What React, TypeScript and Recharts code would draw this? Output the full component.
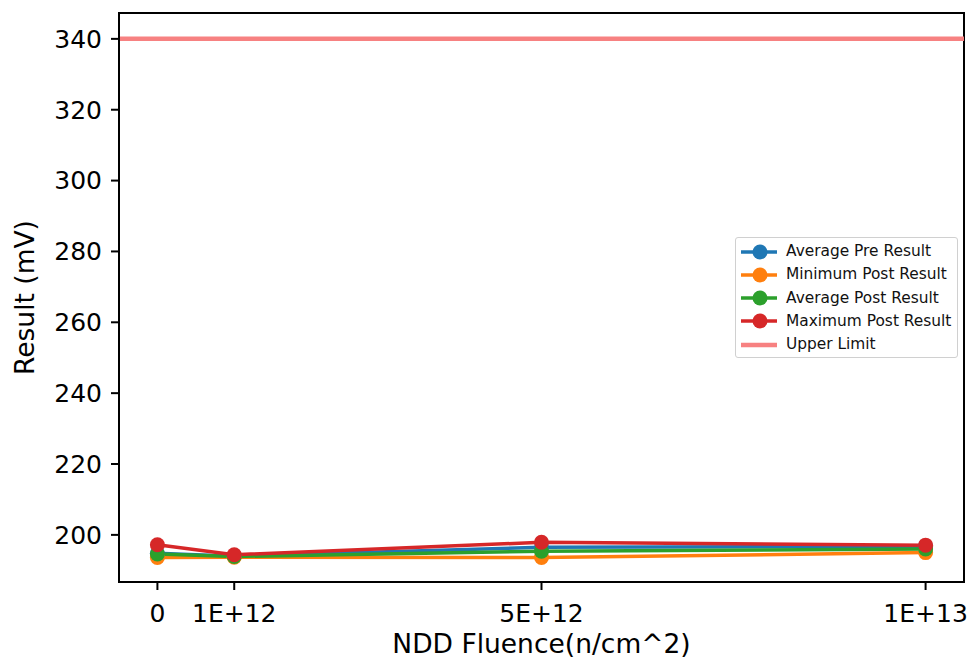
import React from 'react';
import { LineChart, Line, XAxis, YAxis, ReferenceLine, ReferenceArea, Legend } from 'recharts';

const fluence = [0, 1e12, 5e12, 1e13];
const tickLabels = ['0', '1E+12', '5E+12', '1E+13'];
const avgPre = [194.8, 194.0, 196.5, 196.7];
const minPost = [193.6, 193.7, 193.6, 195.0];
const avgPost = [194.6, 193.9, 195.4, 196.0];
const maxPost = [197.2, 194.4, 197.9, 197.1];
const upperLimit = 340;
const yTicks = [200, 220, 240, 260, 280, 300, 320, 340];
const xDomain = [-0.5e12, 10.5e12];
const yDomain = [186.7, 347.3];

const data = fluence.map((x, i) => ({
  x,
  avgPre: avgPre[i],
  minPost: minPost[i],
  avgPost: avgPost[i],
  maxPost: maxPost[i],
}));

const series = [
  { key: 'avgPre', name: 'Average Pre Result', color: '#1f77b4' },
  { key: 'minPost', name: 'Minimum Post Result', color: '#ff7f0e' },
  { key: 'avgPost', name: 'Average Post Result', color: '#2ca02c' },
  { key: 'maxPost', name: 'Maximum Post Result', color: '#d62728' },
];
const limitColor = '#f78181';
const FONT = 'DejaVu Sans, sans-serif';
const FS = 25;
const LFS = 26.5;

const LegendBox = () => (
  <div
    style={{
      position: 'absolute',
      left: 735,
      top: 237,
      width: 223,
      height: 121,
      border: '1.5px solid #d0d0d0',
      borderRadius: 3,
      background: 'rgba(255,255,255,0.8)',
      fontFamily: FONT,
      fontSize: 15.4,
      boxSizing: 'border-box',
    }}
  >
    {[...series.map((s) => ({ ...s, marker: true })), { key: 'ul', name: 'Upper Limit', color: limitColor, marker: false }].map(
      (s, i) => (
        <div key={s.key} style={{ position: 'absolute', left: 0, top: 3.5 + i * 23.3, height: 20, width: 220 }}>
          <svg width={44} height={20} style={{ position: 'absolute', left: 3, top: 0 }}>
            <line x1={2} x2={38} y1={10} y2={10} stroke={s.color} strokeWidth={s.marker ? 3.5 : 4.5} />
            {s.marker && <circle cx={21} cy={10} r={7.5} fill={s.color} />}
          </svg>
          <span style={{ position: 'absolute', left: 50, top: 0.5, color: '#111', whiteSpace: 'nowrap', lineHeight: '18px' }}>{s.name}</span>
        </div>
      )
    )}
  </div>
);

export default function App() {
  return (
    <div style={{ position: 'absolute', left: 0, top: 0, width: 972, height: 661, background: '#fff' }}>
      <LineChart
        width={972}
        height={661}
        data={data}
        margin={{ top: 13, right: 8, bottom: 0, left: 0 }}
        style={{ fontFamily: FONT }}
      >
        <XAxis
          dataKey="x"
          type="number"
          domain={xDomain}
          ticks={fluence}
          tickFormatter={(v: number) => tickLabels[fluence.indexOf(v)] ?? ''}
          allowDataOverflow
          height={79}
          stroke="#000"
          strokeWidth={2}
          tickSize={8}
          tickMargin={14}
          tick={{ fill: '#000', fontSize: FS, fontFamily: FONT }}
          label={(props: any) => {
            const vb = props.viewBox || {};
            const cx = (vb.x ?? 119) + (vb.width ?? 845) / 2;
            return (
              <text x={cx} y={653} textAnchor="middle" fill="#000" fontSize={LFS} fontFamily={FONT}>
                NDD Fluence(n/cm^2)
              </text>
            );
          }}
        />
        <YAxis
          type="number"
          domain={yDomain}
          ticks={yTicks}
          allowDataOverflow
          width={119}
          stroke="#000"
          strokeWidth={2}
          tickSize={8}
          tickMargin={9}
          tick={{ fill: '#000', fontSize: FS, fontFamily: FONT }}
          label={(props: any) => {
            const vb = props.viewBox || {};
            const cy = (vb.y ?? 13) + (vb.height ?? 569) / 2;
            return (
              <text x={34} y={cy} transform={`rotate(-90, 34, ${cy})`} textAnchor="middle" fill="#000" fontSize={LFS} fontFamily={FONT}>
                Result (mV)
              </text>
            );
          }}
        />
        <ReferenceArea
          x1={xDomain[0]}
          x2={xDomain[1]}
          y1={yDomain[0]}
          y2={yDomain[1]}
          fill="#fff"
          fillOpacity={0}
          stroke="#000"
          strokeWidth={2}
          ifOverflow="visible"
        />
        <ReferenceLine y={upperLimit} stroke={limitColor} strokeWidth={4.5} />
        {series.map((s) => (
          <Line
            key={s.key}
            dataKey={s.key}
            name={s.name}
            stroke={s.color}
            strokeWidth={3.5}
            dot={{ r: 7.5, fill: s.color, stroke: s.color, strokeWidth: 0 }}
            activeDot={false}
            isAnimationActive={false}
          />
        ))}
        <Legend content={() => null} />
      </LineChart>
      <LegendBox />
    </div>
  );
}
